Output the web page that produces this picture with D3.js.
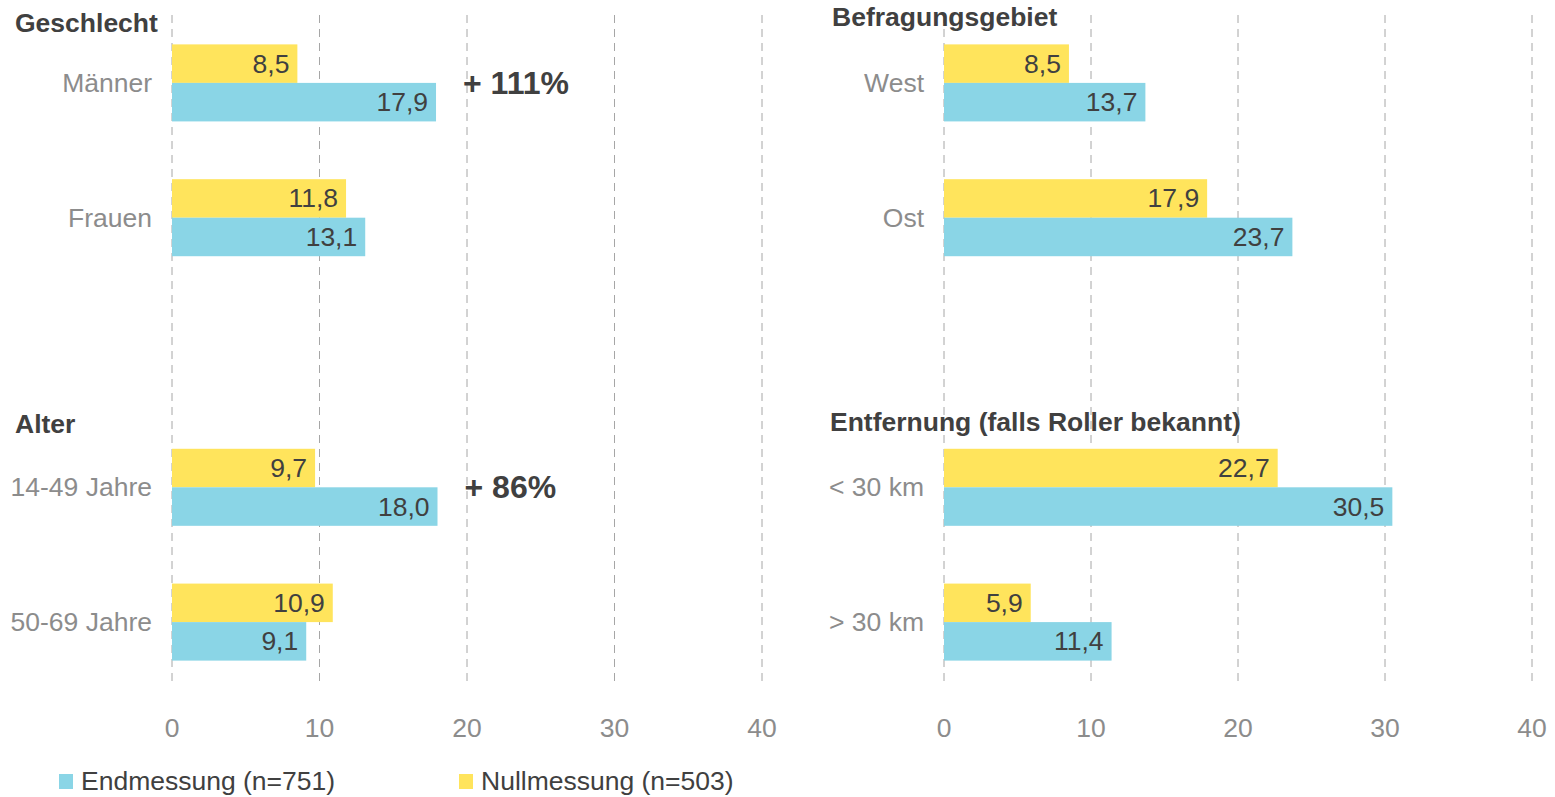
<!DOCTYPE html>
<html>
<head>
<meta charset="utf-8">
<script src="https://cdn.jsdelivr.net/npm/d3@7"></script>
<style>
  html, body { margin: 0; padding: 0; background: #fff; }
  svg { display: block; font-family: "Liberation Sans", Arial, sans-serif; }
</style>
</head>
<body>
<svg id="chart" width="1555" height="797"></svg>
<script>
// Werte aus der Grafik
const geschlechtCats = ["Männer", "Frauen"]
const geschlechtNull = [8.5, 11.8]
const geschlechtEnd  = [17.9, 13.1]

const alterCats = ["14-49 Jahre", "50-69 Jahre"]
const alterNull = [9.7, 10.9]
const alterEnd  = [18.0, 9.1]

const gebietCats = ["West", "Ost"]
const gebietNull = [8.5, 17.9]
const gebietEnd  = [13.7, 23.7]

const entfCats = ["< 30 km", "> 30 km"]
const entfNull = [22.7, 5.9]
const entfEnd  = [30.5, 11.4]

const xTicks = [0, 10, 20, 30, 40]
const seriesNames = ["Endmessung (n=751)", "Nullmessung (n=503)"]
const annoRows = ["Männer", "14-49 Jahre"]
const annoTexts = ["+ 111%", "+ 86%"]

const YELLOW = "#FFE45C", BLUE = "#8AD5E6"
const DARK = "#404040", GREY = "#8C8C8C"
const FS = 26.5

const svg = d3.select("#chart")
const fmt = v => d3.format(".1f")(v).replace(".", ",")

// 5 Zeilen: zwei Gruppen oben, eine Leerzeile, zwei Gruppen unten
const y = d3.scaleBand().domain(["a0", "a1", "gap", "b0", "b1"]).range([15.5, 689.5])
const inner = d3.scaleBand().domain(["null", "end"]).range([0, y.bandwidth()])
    .paddingInner(0).paddingOuter(0.75)

const panels = [
    { x0: 172, x1: 762, top: [geschlechtCats, geschlechtNull, geschlechtEnd, "Geschlecht", 15, 23],
      bottom: [alterCats, alterNull, alterEnd, "Alter", 15, 424] },
    { x0: 944, x1: 1532, top: [gebietCats, gebietNull, gebietEnd, "Befragungsgebiet", 832, 17],
      bottom: [entfCats, entfNull, entfEnd, "Entfernung (falls Roller bekannt)", 830, 422] }
]

panels.forEach(p => {
    const x = d3.scaleLinear().domain([0, 40]).range([p.x0, p.x1])
    const g = svg.append("g")

    // gestrichelte Gitterlinien
    g.selectAll("line.grid").data(xTicks).join("line")
        .attr("x1", d => x(d)).attr("x2", d => x(d))
        .attr("y1", 15).attr("y2", 686)
        .attr("stroke", "#A6A6A6").attr("stroke-width", 1)
        .attr("stroke-dasharray", "8,6")

    g.selectAll("text.tick").data(xTicks).join("text")
        .attr("x", d => x(d)).attr("y", 728)
        .attr("text-anchor", "middle").attr("dominant-baseline", "central")
        .attr("font-size", FS).attr("fill", GREY)
        .text(d => d)

    const sections = [["a", p.top], ["b", p.bottom]]
    sections.forEach(([key, [cats, nullV, endV, title, tx, ty]]) => {
        g.append("text")
            .attr("x", tx).attr("y", ty)
            .attr("dominant-baseline", "central")
            .attr("font-size", FS).attr("font-weight", "bold").attr("fill", DARK)
            .text(title)

        cats.forEach((c, i) => {
            const rowY = y(key + i)
            g.append("text")
                .attr("x", p.x0 - 20).attr("y", rowY + y.bandwidth() / 2)
                .attr("text-anchor", "end").attr("dominant-baseline", "central")
                .attr("font-size", FS).attr("fill", GREY)
                .text(c)

            const bars = [["null", nullV[i], YELLOW], ["end", endV[i], BLUE]]
            bars.forEach(([s, v, col]) => {
                const by = rowY + inner(s)
                g.append("rect")
                    .attr("x", x(0)).attr("y", by)
                    .attr("width", x(v) - x(0)).attr("height", inner.bandwidth())
                    .attr("fill", col)
                g.append("text")
                    .attr("x", x(v) - 8).attr("y", by + inner.bandwidth() / 2)
                    .attr("text-anchor", "end").attr("dominant-baseline", "central")
                    .attr("font-size", FS).attr("fill", DARK)
                    .text(fmt(v))
            })

            const ai = annoRows.indexOf(c)
            if (ai >= 0) {
                g.append("text")
                    .attr("x", x(endV[i]) + 27).attr("y", rowY + y.bandwidth() / 2)
                    .attr("dominant-baseline", "central")
                    .attr("font-size", 32).attr("font-weight", "bold").attr("fill", DARK)
                    .text(annoTexts[ai])
            }
        })
    })
})

// Legende
const legend = svg.append("g")
const legendX = [59, 459]
const legendCols = [BLUE, YELLOW]
seriesNames.forEach((n, i) => {
    legend.append("rect").attr("x", legendX[i]).attr("y", 774)
        .attr("width", 14).attr("height", 15).attr("fill", legendCols[i])
    legend.append("text").attr("x", legendX[i] + 22).attr("y", 781)
        .attr("dominant-baseline", "central")
        .attr("font-size", FS).attr("fill", DARK)
        .text(n)
})
</script>
</body>
</html>
